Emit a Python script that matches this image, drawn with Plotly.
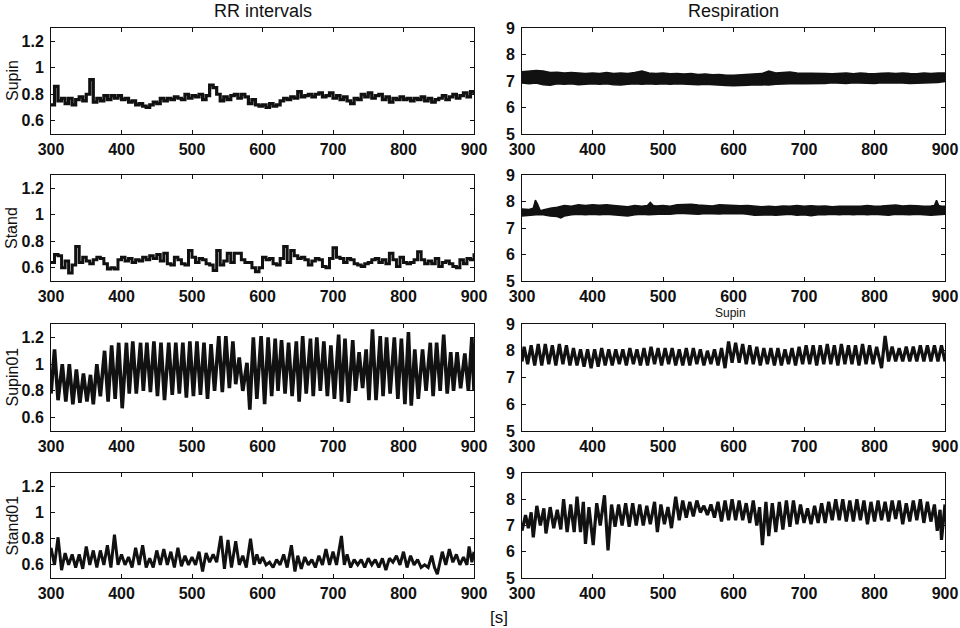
import plotly.graph_objects as go

# ---------------- data ----------------
x_ticks = [300, 400, 500, 600, 700, 800, 900]
rr_ticks = [0.6, 0.8, 1.0, 1.2]
rr_tick_text = ["0.6", "0.8", "1", "1.2"]
resp_ticks = [5, 6, 7, 8, 9]
row_labels = ["Supin", "Stand", "Supin01", "Stand01"]
col_titles = ["RR intervals", "Respiration"]

# RR intervals, Supin: one value every 5 s from 300 s to 900 s
rr_start, rr_step = 300, 5
rr_supin = [
    0.72, 0.86, 0.75, 0.77, 0.73, 0.77, 0.72, 0.76, 0.78, 0.75,
    0.80, 0.91, 0.74, 0.77, 0.75, 0.79, 0.76, 0.79, 0.77, 0.79,
    0.76, 0.77, 0.74, 0.75, 0.72, 0.73, 0.71, 0.70, 0.72, 0.74,
    0.73, 0.77, 0.75, 0.77, 0.76, 0.78, 0.77, 0.76, 0.80, 0.77,
    0.79, 0.78, 0.80, 0.76, 0.79, 0.87, 0.85, 0.80, 0.75, 0.78,
    0.76, 0.79, 0.80, 0.77, 0.80, 0.78, 0.73, 0.76, 0.72, 0.71,
    0.72, 0.70, 0.73, 0.71, 0.72, 0.75, 0.77, 0.76, 0.78, 0.77,
    0.82, 0.78, 0.79, 0.80, 0.78, 0.80, 0.81, 0.78, 0.79, 0.81,
    0.77, 0.79, 0.76, 0.78, 0.75, 0.73, 0.77, 0.76, 0.80, 0.78,
    0.81, 0.77, 0.79, 0.80, 0.76, 0.78, 0.74, 0.77, 0.76, 0.78,
    0.76, 0.77, 0.75, 0.77, 0.76, 0.78, 0.75, 0.77, 0.74, 0.76,
    0.77, 0.79, 0.76, 0.78, 0.80, 0.77, 0.79, 0.81, 0.78, 0.82,
    0.80,
]

# RR intervals, Stand: one value every 5 s from 300 s to 900 s
rr_stand = [
    0.64, 0.70, 0.69, 0.60, 0.65, 0.56, 0.62, 0.76, 0.64, 0.68,
    0.65, 0.63, 0.66, 0.68, 0.67, 0.63, 0.59, 0.60, 0.59, 0.66,
    0.68, 0.65, 0.67, 0.64, 0.66, 0.65, 0.68, 0.66, 0.69, 0.67,
    0.70, 0.65, 0.71, 0.63, 0.62, 0.68, 0.66, 0.63, 0.62, 0.73,
    0.68, 0.64, 0.67, 0.66, 0.63, 0.62, 0.58, 0.73, 0.62, 0.65,
    0.71, 0.64, 0.71, 0.71, 0.66, 0.64, 0.64, 0.60, 0.57, 0.60,
    0.68, 0.66, 0.67, 0.63, 0.62, 0.67, 0.76, 0.64, 0.73, 0.69,
    0.67, 0.68, 0.66, 0.62, 0.65, 0.67, 0.66, 0.61, 0.60, 0.67,
    0.75, 0.68, 0.67, 0.64, 0.67, 0.66, 0.63, 0.62, 0.61, 0.63,
    0.64, 0.66, 0.67, 0.64, 0.66, 0.63, 0.71, 0.66, 0.61, 0.68,
    0.64, 0.63, 0.64, 0.66, 0.72, 0.66, 0.63, 0.65, 0.63, 0.67,
    0.61, 0.64, 0.65, 0.63, 0.61, 0.60, 0.66, 0.63, 0.67, 0.66,
    0.71,
]

# RR intervals, Supin01: peaks and troughs (time s, value)
rr_supin01_peaks = [
    (305, 1.11), (316, 1.00), (326, 1.00), (336, 0.96), (346, 0.93), (356, 0.92),
    (365, 1.00), (376, 1.10), (386, 1.14), (396, 1.16), (407, 1.16), (416, 1.17),
    (427, 1.16), (436, 1.16), (446, 1.17), (456, 1.16), (467, 1.16), (477, 1.16),
    (487, 1.16), (497, 1.17), (507, 1.17), (517, 1.16), (527, 1.15), (538, 1.21),
    (548, 1.21), (558, 1.17), (567, 1.05), (578, 1.01), (587, 1.20), (598, 1.21),
    (608, 1.20), (618, 1.19), (627, 1.18), (637, 1.16), (648, 1.17), (657, 1.21),
    (668, 1.19), (677, 1.20), (687, 1.17), (697, 1.14), (708, 1.22), (717, 1.19),
    (728, 1.18), (737, 1.09), (747, 1.11), (756, 1.26), (767, 1.21), (776, 1.20),
    (787, 1.20), (797, 1.19), (807, 1.24), (816, 1.11), (827, 1.11), (838, 1.16),
    (847, 1.16), (857, 1.22), (867, 1.09), (876, 1.09), (887, 1.08), (897, 1.20),
]
rr_supin01_troughs = [
    (300, 0.78), (310, 0.73), (321, 0.72), (331, 0.70), (341, 0.71), (351, 0.72),
    (360, 0.70), (370, 0.76), (381, 0.72), (391, 0.74), (401, 0.67), (411, 0.78),
    (421, 0.78), (431, 0.80), (441, 0.79), (451, 0.76), (461, 0.73), (472, 0.77),
    (482, 0.78), (492, 0.75), (502, 0.76), (512, 0.77), (522, 0.74), (532, 0.80),
    (543, 0.79), (553, 0.82), (562, 0.85), (572, 0.80), (582, 0.66), (592, 0.74),
    (603, 0.70), (613, 0.76), (622, 0.80), (632, 0.78), (642, 0.76), (652, 0.72),
    (662, 0.78), (672, 0.76), (682, 0.80), (692, 0.76), (702, 0.74), (712, 0.72),
    (722, 0.71), (732, 0.80), (742, 0.82), (751, 0.73), (761, 0.73), (771, 0.76),
    (781, 0.78), (792, 0.74), (802, 0.70), (811, 0.69), (821, 0.74), (832, 0.80),
    (842, 0.76), (852, 0.80), (862, 0.78), (871, 0.80), (881, 0.82), (892, 0.80),
    (900, 0.80),
]

# RR intervals, Stand01: (time s, value)
rr_stand01 = [
    (300, 0.73), (305, 0.60), (310, 0.81), (315, 0.56), (320, 0.69), (325, 0.60),
    (330, 0.68), (335, 0.58), (340, 0.68), (345, 0.57), (350, 0.74), (355, 0.60),
    (360, 0.71), (365, 0.58), (370, 0.71), (375, 0.60), (380, 0.75), (385, 0.58),
    (390, 0.83), (395, 0.60), (400, 0.68), (405, 0.60), (410, 0.66), (415, 0.58),
    (420, 0.73), (425, 0.60), (430, 0.75), (435, 0.58), (440, 0.65), (445, 0.58),
    (450, 0.71), (455, 0.60), (460, 0.72), (465, 0.60), (470, 0.70), (475, 0.58),
    (480, 0.73), (485, 0.59), (490, 0.67), (495, 0.60), (500, 0.66), (505, 0.60),
    (510, 0.70), (515, 0.55), (520, 0.69), (525, 0.62), (530, 0.68), (535, 0.62),
    (541, 0.82), (546, 0.57), (551, 0.79), (556, 0.58), (562, 0.78), (567, 0.60),
    (572, 0.67), (577, 0.58), (583, 0.80), (588, 0.60), (592, 0.68), (596, 0.61),
    (600, 0.66), (605, 0.60), (610, 0.62), (615, 0.58), (620, 0.64), (625, 0.60),
    (630, 0.68), (635, 0.58), (641, 0.75), (646, 0.55), (650, 0.67), (655, 0.57),
    (660, 0.66), (665, 0.60), (670, 0.64), (675, 0.58), (680, 0.67), (685, 0.60),
    (690, 0.72), (695, 0.60), (700, 0.70), (705, 0.60), (712, 0.82), (716, 0.60),
    (720, 0.68), (725, 0.58), (730, 0.64), (735, 0.60), (740, 0.64), (745, 0.58),
    (750, 0.65), (755, 0.60), (760, 0.64), (765, 0.58), (770, 0.65), (775, 0.56),
    (780, 0.65), (785, 0.62), (790, 0.67), (795, 0.60), (800, 0.70), (805, 0.58),
    (810, 0.67), (815, 0.60), (820, 0.64), (825, 0.58), (830, 0.60), (835, 0.58),
    (840, 0.67), (844, 0.58), (848, 0.53), (855, 0.70), (860, 0.60), (865, 0.72),
    (870, 0.62), (875, 0.68), (880, 0.60), (885, 0.66), (890, 0.60), (893, 0.74),
    (897, 0.62), (900, 0.70),
]

# Respiration, Supin: dense trace drawn as its upper / lower envelope, every 10 s
env_start, env_step = 300, 10
resp_supin_upper = [
    7.35, 7.38, 7.40, 7.38, 7.32, 7.33, 7.30, 7.32, 7.30, 7.28,
    7.30, 7.28, 7.32, 7.28, 7.30, 7.28, 7.32, 7.38, 7.30, 7.28,
    7.30, 7.27, 7.28, 7.26, 7.28, 7.25, 7.26, 7.24, 7.25, 7.22,
    7.22, 7.23, 7.25, 7.26, 7.28, 7.38, 7.30, 7.32, 7.34, 7.30,
    7.30, 7.28, 7.30, 7.28, 7.27, 7.28, 7.30, 7.27, 7.30, 7.28,
    7.27, 7.29, 7.30, 7.28, 7.30, 7.28, 7.27, 7.30, 7.28, 7.30,
    7.30,
]
resp_supin_lower = [
    6.92, 6.90, 6.92, 6.86, 6.84, 6.90, 6.88, 6.90, 6.86, 6.88,
    6.90, 6.88, 6.90, 6.86, 6.85, 6.88, 6.90, 6.88, 6.90, 6.88,
    6.90, 6.88, 6.90, 6.88, 6.88, 6.86, 6.88, 6.86, 6.85, 6.83,
    6.82, 6.82, 6.84, 6.86, 6.86, 6.85, 6.88, 6.90, 6.90, 6.91,
    6.90, 6.91, 6.90, 6.91, 6.93, 6.92, 6.91, 6.93, 6.94, 6.92,
    6.91, 6.93, 6.92, 6.93, 6.92, 6.91, 6.93, 6.92, 6.93, 6.94,
    6.98,
]

# Respiration, Stand: upper / lower envelope (time s, value)
resp_stand_upper = [
    (300, 7.72), (310, 7.70), (316, 7.75), (319, 8.05), (322, 7.90), (326, 7.65),
    (330, 7.68), (340, 7.75), (350, 7.78), (360, 7.85), (370, 7.82), (380, 7.88),
    (390, 7.85), (400, 7.88), (410, 7.86), (420, 7.88), (430, 7.85), (440, 7.83),
    (450, 7.80), (460, 7.85), (470, 7.82), (478, 7.85), (482, 7.97), (486, 7.85),
    (490, 7.83), (500, 7.85), (510, 7.82), (520, 7.88), (530, 7.88), (540, 7.90),
    (550, 7.87), (560, 7.85), (570, 7.83), (580, 7.88), (590, 7.86), (600, 7.85),
    (610, 7.84), (620, 7.85), (630, 7.82), (640, 7.80), (650, 7.82), (660, 7.80),
    (670, 7.83), (680, 7.82), (690, 7.85), (700, 7.82), (710, 7.84), (720, 7.82),
    (730, 7.83), (740, 7.80), (750, 7.82), (760, 7.82), (770, 7.83), (780, 7.82),
    (790, 7.85), (800, 7.82), (810, 7.83), (820, 7.84), (830, 7.87), (840, 7.83),
    (850, 7.85), (860, 7.84), (870, 7.82), (880, 7.83), (885, 7.85), (888, 8.05),
    (891, 7.85), (895, 7.82), (900, 7.82),
]
resp_stand_lower = [
    (300, 7.45), (310, 7.47), (320, 7.50), (330, 7.50), (340, 7.45), (350, 7.43),
    (355, 7.38), (360, 7.45), (370, 7.50), (380, 7.52), (390, 7.50), (400, 7.52),
    (410, 7.50), (420, 7.52), (430, 7.50), (440, 7.48), (450, 7.45), (460, 7.50),
    (470, 7.52), (480, 7.50), (490, 7.52), (500, 7.53), (510, 7.52), (520, 7.55),
    (530, 7.55), (540, 7.54), (550, 7.52), (560, 7.55), (570, 7.55), (580, 7.53),
    (590, 7.55), (600, 7.54), (610, 7.55), (620, 7.52), (630, 7.48), (640, 7.50),
    (650, 7.50), (660, 7.48), (670, 7.50), (680, 7.52), (690, 7.48), (700, 7.50),
    (710, 7.46), (720, 7.50), (730, 7.50), (740, 7.52), (750, 7.50), (760, 7.52),
    (770, 7.50), (780, 7.52), (790, 7.50), (800, 7.52), (810, 7.50), (820, 7.48),
    (830, 7.52), (840, 7.50), (850, 7.50), (860, 7.52), (870, 7.50), (880, 7.48),
    (890, 7.50), (900, 7.52),
]

# Respiration, Supin01: (time s, value), peaks and troughs
resp_supin01 = [
    (300, 7.60), (303, 8.15), (308, 7.50), (313, 8.20), (318, 7.45), (323, 8.25), (328, 7.45),
    (333, 8.25), (338, 7.50), (343, 8.20), (348, 7.45), (353, 8.25), (358, 7.50),
    (363, 8.20), (368, 7.45), (373, 8.10), (378, 7.45), (383, 8.05), (388, 7.40),
    (393, 8.05), (398, 7.35), (403, 8.05), (408, 7.40), (413, 8.10), (418, 7.45),
    (423, 8.05), (428, 7.45), (433, 8.05), (438, 7.50), (443, 8.05), (448, 7.45),
    (453, 8.10), (458, 7.50), (463, 8.05), (468, 7.45), (473, 8.10), (478, 7.45),
    (483, 8.15), (488, 7.50), (493, 8.10), (498, 7.45), (503, 8.10), (508, 7.50),
    (513, 8.10), (518, 7.45), (523, 8.05), (528, 7.45), (533, 8.10), (538, 7.45),
    (543, 8.10), (548, 7.50), (553, 8.05), (558, 7.45), (563, 8.00), (568, 7.50),
    (573, 8.05), (578, 7.45), (583, 8.10), (588, 7.35), (593, 8.35), (598, 7.55),
    (603, 8.30), (608, 7.55), (613, 8.25), (618, 7.50), (623, 8.20), (628, 7.50),
    (633, 8.15), (638, 7.45), (643, 8.10), (648, 7.50), (653, 8.10), (658, 7.45),
    (663, 8.10), (668, 7.45), (673, 8.05), (678, 7.50), (683, 8.10), (688, 7.45),
    (693, 8.15), (698, 7.50), (703, 8.20), (708, 7.50), (713, 8.20), (718, 7.45),
    (723, 8.20), (728, 7.50), (733, 8.25), (738, 7.50), (743, 8.20), (748, 7.45),
    (753, 8.25), (758, 7.50), (763, 8.20), (768, 7.50), (773, 8.20), (778, 7.45),
    (783, 8.25), (788, 7.50), (793, 8.20), (798, 7.50), (803, 8.15), (810, 7.35),
    (815, 8.55), (820, 7.60), (825, 8.15), (830, 7.60), (835, 8.10), (840, 7.60),
    (845, 8.15), (850, 7.60), (855, 8.15), (860, 7.60), (865, 8.20), (870, 7.60),
    (875, 8.20), (880, 7.60), (885, 8.20), (890, 7.60), (895, 8.20), (900, 7.60),
]

# Respiration, Stand01: (time s, value), peaks and troughs
resp_stand01 = [
    (300, 6.80), (305, 7.40), (309, 6.90), (313, 7.50), (316, 6.55), (321, 7.75),
    (326, 7.00), (331, 7.65), (334, 6.70), (340, 7.70), (345, 6.90), (350, 7.60),
    (355, 6.85), (359, 8.00), (364, 6.75), (369, 7.80), (374, 6.75), (378, 8.10),
    (383, 6.75), (387, 7.90), (390, 6.30), (395, 7.70), (401, 6.25), (406, 7.85),
    (411, 7.00), (417, 8.15), (422, 6.05), (427, 7.80), (432, 6.95), (437, 7.80),
    (442, 7.00), (447, 7.85), (452, 6.95), (457, 7.85), (462, 7.00), (467, 7.80),
    (472, 7.00), (477, 7.75), (482, 7.05), (488, 7.90), (492, 6.75), (497, 7.80),
    (502, 7.05), (507, 7.70), (512, 6.90), (518, 8.10), (523, 7.20), (528, 7.95),
    (533, 7.30), (538, 7.90), (543, 7.35), (548, 7.95), (553, 7.50), (558, 7.75),
    (563, 7.40), (568, 7.80), (573, 7.30), (578, 7.90), (583, 7.15), (588, 7.95),
    (593, 7.20), (598, 8.00), (603, 7.20), (608, 7.95), (613, 7.20), (618, 7.85),
    (623, 7.10), (628, 7.95), (633, 7.00), (637, 7.70), (641, 6.25), (646, 7.90),
    (650, 6.60), (655, 7.85), (660, 6.75), (665, 7.90), (670, 6.85), (675, 7.95),
    (680, 6.95), (685, 7.95), (690, 7.05), (695, 7.80), (700, 7.10), (705, 7.65),
    (710, 7.05), (715, 7.75), (720, 7.10), (725, 7.85), (730, 7.10), (735, 7.90),
    (740, 7.20), (745, 8.00), (750, 7.20), (755, 8.00), (760, 7.15), (765, 7.95),
    (770, 7.15), (775, 8.00), (780, 7.20), (785, 7.95), (790, 7.05), (795, 7.90),
    (800, 7.15), (805, 7.95), (810, 7.20), (815, 7.90), (820, 7.15), (825, 7.95),
    (830, 7.25), (835, 7.95), (840, 7.05), (845, 7.85), (850, 7.15), (855, 7.95),
    (860, 7.20), (865, 8.00), (870, 7.10), (875, 7.90), (880, 7.15), (885, 7.80),
    (889, 6.80), (893, 7.60), (895, 6.45), (900, 7.80),
]

# ---------------- layout geometry (pixels in a 960 x 628 page) ----------------
W, H = 960, 628
col_px = [(51, 474), (522, 945)]
row_px = [(28, 134), (175, 281), (324, 431), (473, 578)]
FONT = "Liberation Sans, Arial, sans-serif"
INK = "#111111"


def xdom(c):
    return [col_px[c][0] / W, col_px[c][1] / W]


def ydom(r):
    return [1 - row_px[r][1] / H, 1 - row_px[r][0] / H]


def split(pairs):
    pairs = sorted(pairs)
    return [p[0] for p in pairs], [p[1] for p in pairs]


def grid(start, step, n):
    return [start + step * i for i in range(n)]


fig = go.Figure()
layout = dict(
    width=W, height=H, margin=dict(l=0, r=0, t=0, b=0, autoexpand=False),
    paper_bgcolor="white", plot_bgcolor="white", showlegend=False,
    font=dict(family=FONT, color=INK),
)

tickfont = dict(family=FONT, size=16, color=INK, weight="bold")

for r in range(4):
    for c in range(2):
        i = r * 2 + c + 1
        xn = "xaxis" if i == 1 else f"xaxis{i}"
        yn = "yaxis" if i == 1 else f"yaxis{i}"
        xa = "x" if i == 1 else f"x{i}"
        ya = "y" if i == 1 else f"y{i}"
        layout[xn] = dict(
            domain=xdom(c), anchor=ya, range=[300, 900], tickvals=x_ticks,
            ticks="inside", ticklen=4, tickcolor=INK, showline=True,
            linecolor=INK, linewidth=1, mirror="ticks", showgrid=False,
            zeroline=False, tickfont=tickfont, ticklabelstandoff=1,
            automargin=False,
        )
        if c == 0:
            yv, yt, yr = rr_ticks, rr_tick_text, [0.5, 1.3]
        else:
            yv, yt, yr = resp_ticks, [str(v) for v in resp_ticks], [5, 9]
        layout[yn] = dict(
            domain=ydom(r), anchor=xa, range=yr, tickvals=yv, ticktext=yt,
            ticks="inside", ticklen=4, tickcolor=INK, showline=True,
            linecolor=INK, linewidth=1, mirror="ticks", showgrid=False,
            zeroline=False, tickfont=tickfont, ticklabelstandoff=3,
            automargin=False,
        )


def add_line(i, x, y, width, shape="linear"):
    xa = "x" if i == 1 else f"x{i}"
    ya = "y" if i == 1 else f"y{i}"
    fig.add_trace(go.Scatter(x=x, y=y, mode="lines", xaxis=xa, yaxis=ya,
                             line=dict(shape=shape, color=INK, width=width),
                             hoverinfo="skip"))


def add_band(i, ux, uy, lx, ly):
    xa = f"x{i}"
    ya = f"y{i}"
    fig.add_trace(go.Scatter(x=ux + lx[::-1], y=uy + ly[::-1], mode="lines",
                             xaxis=xa, yaxis=ya, fill="toself",
                             fillcolor=INK, line=dict(color=INK, width=1.5),
                             hoverinfo="skip"))


# RR Supin
add_line(1, grid(rr_start, rr_step, len(rr_supin)), rr_supin, 3.2, "hv")
# Respiration Supin
et = grid(env_start, env_step, len(resp_supin_upper))
add_band(2, et, resp_supin_upper, et, resp_supin_lower)
# RR Stand
add_line(3, grid(rr_start, rr_step, len(rr_stand)), rr_stand, 3.0, "hv")
# Respiration Stand
ux, uy = split(resp_stand_upper)
lx, ly = split(resp_stand_lower)
add_band(4, ux, uy, lx, ly)
# RR Supin01
sx, sy = split(rr_supin01_peaks + rr_supin01_troughs)
add_line(5, sx, sy, 3.6)
# Respiration Supin01
sx, sy = split(resp_supin01)
add_line(6, sx, sy, 3.2)
# RR Stand01
sx, sy = split(rr_stand01)
add_line(7, sx, sy, 3.0)
# Respiration Stand01
sx, sy = split(resp_stand01)
add_line(8, sx, sy, 3.2)

annotations = []
# column titles
for c, title in enumerate(col_titles):
    annotations.append(dict(
        text=title, x=(col_px[c][0] + col_px[c][1]) / 2 / W, y=1 - 11 / H,
        xref="paper", yref="paper", xanchor="center", yanchor="middle",
        showarrow=False, font=dict(family=FONT, size=18, color=INK)))
# row labels
for r, lab in enumerate(row_labels):
    annotations.append(dict(
        text=lab, x=12 / W, y=1 - (row_px[r][0] + row_px[r][1]) / 2 / H,
        xref="paper", yref="paper", xanchor="center", yanchor="middle",
        textangle=-90, showarrow=False,
        font=dict(family=FONT, size=16, color=INK)))
# small label under the second respiration panel
annotations.append(dict(
    text="Supin", x=730 / W, y=1 - 313 / H, xref="paper", yref="paper",
    xanchor="center", yanchor="middle", showarrow=False,
    font=dict(family=FONT, size=12, color=INK)))
# time unit
annotations.append(dict(
    text="[s]", x=499 / W, y=1 - 617 / H, xref="paper", yref="paper",
    xanchor="center", yanchor="middle", showarrow=False,
    font=dict(family=FONT, size=17, color=INK)))

layout["annotations"] = annotations
fig.update_layout(**layout)
fig.write_html(
    "out.html",
    config={"displayModeBar": False},
    post_script="document.body.style.margin='0';"
                "document.body.style.overflow='hidden';",
)
